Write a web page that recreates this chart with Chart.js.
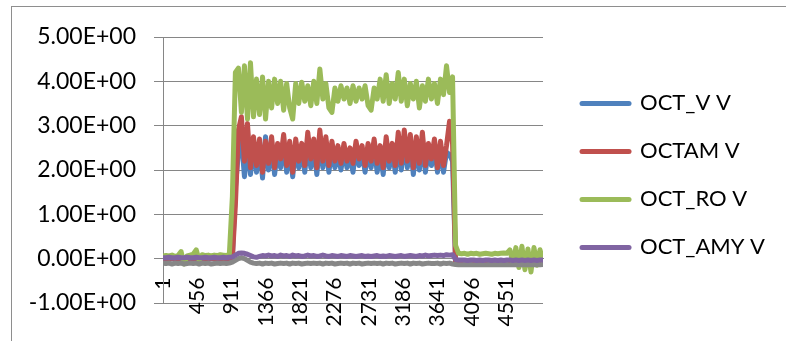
<!DOCTYPE html>
<html>
<head>
<meta charset="utf-8">
<title>OCT voltages</title>
<script src="https://cdn.jsdelivr.net/npm/chart.js@4.4.1/dist/chart.umd.min.js"></script>
<style>
  html, body { margin: 0; padding: 0; background: #fff; overflow: hidden; }
  #wrap { position: relative; width: 786px; height: 341px; }
  #frame { position: absolute; left: 11px; top: 6px; width: 800px; height: 360px; border: 1px solid #8e8e8e; }
  #chart { position: absolute; left: 0; top: 0; }
</style>
</head>
<body>
<div id="wrap">
  <div id="frame"></div>
  <canvas id="chart" width="786" height="341"></canvas>
</div>
<script>
// ========== DATA ==========
// one reading kept every 40 rows of the sheet (row 1, 41, 81 ... 5041)
const sampleStep = 40;

const xTickLabels = [1, 456, 911, 1366, 1821, 2276, 2731, 3186, 3641, 4096, 4551];
const yTickLabels = ["-1.00E+00", "0.00E+00", "1.00E+00", "2.00E+00", "3.00E+00", "4.00E+00", "5.00E+00"];

const seriesNames = ["OCT_V V", "OCTAM V", "OCT_RO V", "OCT_AMY V", ""];

const octV = [
  0.00, 0.00, 0.00, 0.00, 0.00, 0.00, 0.00, 0.00, 0.00, 0.00,
  0.00, 0.00, 0.00, 0.00, 0.00, 0.00, 0.00, 0.00, 0.00, 0.00,
  0.00, 0.00, 0.00, 0.01, 1.60, 2.40, 2.70, 1.85, 2.60, 1.90,
  2.55, 1.95, 2.60, 1.82, 2.75, 2.00, 2.55, 1.90, 2.45, 2.05,
  2.60, 1.95, 2.50, 1.85, 2.55, 2.05, 2.45, 1.95, 2.60, 2.05,
  2.55, 1.90, 2.65, 2.05, 2.55, 1.95, 2.50, 2.05, 2.40, 2.00,
  2.45, 2.05, 2.35, 1.95, 2.50, 2.10, 2.40, 1.95, 2.45, 2.05,
  2.55, 1.95, 2.40, 1.90, 2.55, 2.05, 2.45, 1.95, 2.60, 2.00,
  2.65, 2.05, 2.60, 1.90, 2.55, 2.00, 2.65, 1.95, 2.45, 2.10,
  2.55, 1.95, 2.50, 1.95, 2.40, 2.35, 2.20, -0.08, -0.07, -0.05,
  -0.05, -0.05, -0.05, -0.05, -0.05, -0.05, -0.05, -0.05, -0.05, -0.05,
  -0.05, -0.05, -0.05, -0.05, -0.05, -0.05, -0.05, -0.05, -0.05, -0.05,
  -0.05, -0.05, -0.05, -0.05, -0.05, -0.05, -0.05
];

const octAM = [
  0.01, 0.01, 0.01, 0.01, 0.01, 0.01, 0.01, 0.01, 0.01, 0.01,
  0.01, 0.01, 0.01, 0.01, 0.01, 0.01, 0.01, 0.01, 0.01, 0.01,
  0.01, 0.01, 0.01, 0.02, 1.20, 2.90, 3.20, 2.20, 3.05, 2.05,
  2.75, 2.10, 2.70, 1.95, 2.65, 2.15, 2.75, 2.05, 2.60, 2.25,
  2.80, 2.10, 2.65, 1.95, 2.70, 2.20, 2.60, 2.10, 2.85, 2.25,
  2.70, 2.05, 2.90, 2.20, 2.75, 2.10, 2.65, 2.20, 2.55, 2.15,
  2.60, 2.20, 2.50, 2.15, 2.65, 2.25, 2.55, 2.10, 2.60, 2.20,
  2.70, 2.15, 2.55, 2.05, 2.75, 2.20, 2.60, 2.10, 2.85, 2.15,
  2.90, 2.20, 2.80, 2.05, 2.75, 2.15, 2.85, 2.10, 2.60, 2.25,
  2.70, 2.05, 2.65, 2.10, 2.55, 3.10, 2.60, -0.12, -0.10, -0.06,
  -0.06, -0.05, -0.06, -0.05, -0.06, -0.05, -0.06, -0.05, -0.06, -0.05,
  -0.05, -0.06, -0.05, -0.06, -0.05, -0.06, -0.08, -0.05, -0.10, -0.06,
  -0.08, -0.05, -0.10, -0.06, -0.12, -0.07, -0.09
];

const octRO = [
  0.06, 0.07, 0.06, 0.08, 0.05, 0.07, 0.16, -0.12, 0.06, 0.08,
  0.10, 0.20, -0.04, 0.09, 0.07, 0.08, 0.06, 0.08, 0.07, 0.09,
  0.08, 0.07, 0.10, 1.40, 4.20, 4.30, 3.30, 4.35, 3.15, 4.42,
  3.20, 4.05, 3.25, 4.10, 3.15, 4.00, 3.40, 4.05, 3.50, 4.00,
  3.35, 3.95, 3.40, 3.15, 3.95, 3.50, 3.98, 3.55, 3.90, 3.45,
  4.00, 3.50, 4.28, 3.60, 3.95, 3.40, 3.30, 3.85, 3.55, 3.90,
  3.60, 3.85, 3.50, 3.90, 3.55, 3.85, 3.60, 3.90, 3.45, 3.35,
  3.85, 3.60, 4.05, 3.55, 4.15, 3.50, 3.95, 3.60, 4.20, 3.55,
  4.05, 3.45, 3.95, 3.60, 4.00, 3.40, 3.90, 3.55, 4.05, 3.60,
  3.95, 3.50, 4.05, 3.70, 4.35, 3.75, 4.10, 0.30, 0.12, 0.11,
  0.12, 0.10, 0.12, 0.11, 0.12, 0.10, 0.11, 0.12, 0.11, 0.10,
  0.12, 0.11, 0.12, 0.13, 0.12, 0.20, -0.10, 0.25, -0.20, 0.28,
  -0.25, 0.22, -0.30, 0.25, -0.15, 0.20, -0.05
];

const octAMY = [
  0.02, 0.02, 0.03, 0.02, 0.02, 0.03, 0.02, 0.02, 0.03, 0.02,
  0.02, 0.03, 0.02, 0.02, 0.03, 0.02, 0.02, 0.03, 0.02, 0.02,
  0.03, 0.02, 0.03, 0.04, 0.08, 0.12, 0.13, 0.12, 0.10, 0.07,
  0.04, 0.03, 0.05, 0.07, 0.06, 0.08, 0.06, 0.07, 0.05, 0.08,
  0.06, 0.07, 0.05, 0.08, 0.06, 0.07, 0.05, 0.06, 0.08, 0.06,
  0.07, 0.05, 0.06, 0.08, 0.06, 0.05, 0.07, 0.06, 0.05, 0.07,
  0.06, 0.05, 0.07, 0.06, 0.05, 0.06, 0.07, 0.05, 0.06, 0.05,
  0.06, 0.07, 0.05, 0.06, 0.05, 0.07, 0.06, 0.05, 0.06, 0.07,
  0.05, 0.06, 0.07, 0.06, 0.05, 0.07, 0.06, 0.08, 0.06, 0.07,
  0.08, 0.07, 0.08, 0.07, 0.09, 0.08, 0.09, -0.02, -0.03, -0.03,
  -0.03, -0.04, -0.03, -0.03, -0.04, -0.03, -0.04, -0.03, -0.03, -0.04,
  -0.03, -0.04, -0.03, -0.04, -0.03, -0.03, -0.04, -0.03, -0.04, -0.03,
  -0.04, -0.03, -0.04, -0.03, -0.04, -0.03, -0.03
];

// fifth column of the sheet, left out of the legend
const octRef = [
  -0.10, -0.11, -0.10, -0.12, -0.10, -0.11, -0.10, -0.12, -0.11, -0.10,
  -0.11, -0.10, -0.12, -0.10, -0.11, -0.10, -0.12, -0.11, -0.10, -0.11,
  -0.10, -0.11, -0.10, -0.08, -0.04, 0.00, 0.02, 0.00, -0.04, -0.08,
  -0.10, -0.11, -0.10, -0.12, -0.10, -0.11, -0.10, -0.12, -0.11, -0.10,
  -0.11, -0.10, -0.12, -0.10, -0.11, -0.10, -0.12, -0.11, -0.10, -0.11,
  -0.10, -0.11, -0.10, -0.12, -0.10, -0.11, -0.10, -0.12, -0.11, -0.10,
  -0.11, -0.10, -0.12, -0.10, -0.11, -0.10, -0.12, -0.11, -0.10, -0.11,
  -0.10, -0.11, -0.10, -0.12, -0.10, -0.11, -0.10, -0.12, -0.11, -0.10,
  -0.11, -0.10, -0.12, -0.10, -0.11, -0.10, -0.12, -0.11, -0.10, -0.11,
  -0.11, -0.10, -0.12, -0.10, -0.11, -0.10, -0.12, -0.13, -0.14, -0.14,
  -0.13, -0.14, -0.13, -0.14, -0.13, -0.14, -0.13, -0.14, -0.13, -0.14,
  -0.13, -0.14, -0.13, -0.14, -0.13, -0.14, -0.13, -0.14, -0.13, -0.14,
  -0.13, -0.14, -0.13, -0.14, -0.13, -0.14, -0.13
];

const seriesColors = ["#4f81bd", "#c0504d", "#9bbb59", "#8064a2", "#878787"];
// excel draws the first column first, so it ends up underneath
const drawOrder = [5, 4, 3, 1, 2];

// ========== LAYOUT ==========
const FONT = "Lato";
const LEGEND_FONT = 22;
const LEGEND_PAD = 26;
const LEGEND_LINE = 47;
const PLOT_RIGHT = 543;
const LEGEND_LEFT = 556;

// chart.js sizes a right legend from its longest name, so work that width out first
function legendWidth() {
  const ctx = document.createElement("canvas").getContext("2d");
  ctx.font = `${LEGEND_FONT}px ${FONT}`;
  const longest = Math.max(...seriesNames.map(n => ctx.measureText(n).width));
  return Math.ceil(LEGEND_PAD + LEGEND_LINE + LEGEND_FONT / 2 + longest + 10);
}
const legendW = legendWidth();
const padRight = Math.max(0, 786 - LEGEND_LEFT - legendW);

// ========== CHART ==========
function toPoints(values) {
  return values.map((v, i) => ({ x: 1 + i * sampleStep, y: v }));
}

Chart.defaults.font.family = FONT;
Chart.defaults.font.size = 21;
Chart.defaults.color = "#000";

const allSeries = [octV, octAM, octRO, octAMY, octRef];

const datasets = allSeries.map((values, i) => ({
  label: seriesNames[i],
  data: toPoints(values),
  borderColor: seriesColors[i],
  backgroundColor: seriesColors[i],
  borderWidth: 5,
  borderCapStyle: "round",
  borderJoinStyle: "round",
  pointRadius: 0,
  tension: 0,
  fill: false,
  order: drawOrder[i]
}));

new Chart(document.getElementById("chart"), {
  type: "line",
  data: { datasets },
  options: {
    responsive: false,
    animation: false,
    events: [],
    devicePixelRatio: 1,
    layout: { padding: { left: 0, top: 37, right: padRight, bottom: 38 } },
    scales: {
      x: {
        type: "linear",
        position: { y: 0 },
        min: 1,
        max: 1 + (octV.length - 1) * sampleStep,
        grid: { display: false, drawTicks: false },
        border: { display: true, color: "#868686" },
        afterBuildTicks: scale => {
          scale.ticks = xTickLabels.map(v => ({ value: v }));
        },
        ticks: {
          autoSkip: false,
          minRotation: 90,
          maxRotation: 90,
          padding: 19,
          font: { size: 21 },
          callback: v => String(v)
        }
      },
      y: {
        min: -1,
        max: 5,
        afterFit: scale => { scale.width = 163; },
        grid: { color: "#868686", tickLength: 9 },
        border: { color: "#868686" },
        ticks: {
          stepSize: 1,
          padding: 18,
          font: { size: 23 },
          callback: (v, i) => yTickLabels[i]
        }
      },
      // empty strip between plot and legend
      gap: {
        type: "linear",
        position: "right",
        grid: { display: false },
        border: { display: false },
        ticks: { display: false },
        afterFit: scale => { scale.width = LEGEND_LEFT - PLOT_RIGHT; }
      }
    },
    plugins: {
      tooltip: { enabled: false },
      legend: {
        position: "right",
        align: "center",
        maxWidth: legendW,
        title: { display: true, text: " ", font: { size: 9 }, padding: 0 },
        labels: {
          usePointStyle: true,
          pointStyle: "line",
          pointStyleWidth: LEGEND_LINE,
          padding: LEGEND_PAD,
          color: "#000",
          font: { size: LEGEND_FONT },
          filter: item => item.text !== "",
          sort: (a, b) => a.datasetIndex - b.datasetIndex,
          generateLabels: chart =>
            Chart.defaults.plugins.legend.labels.generateLabels(chart).map(item =>
              Object.assign(item, { lineWidth: 5, lineCap: "round" }))
        }
      }
    }
  }
});
</script>
</body>
</html>
